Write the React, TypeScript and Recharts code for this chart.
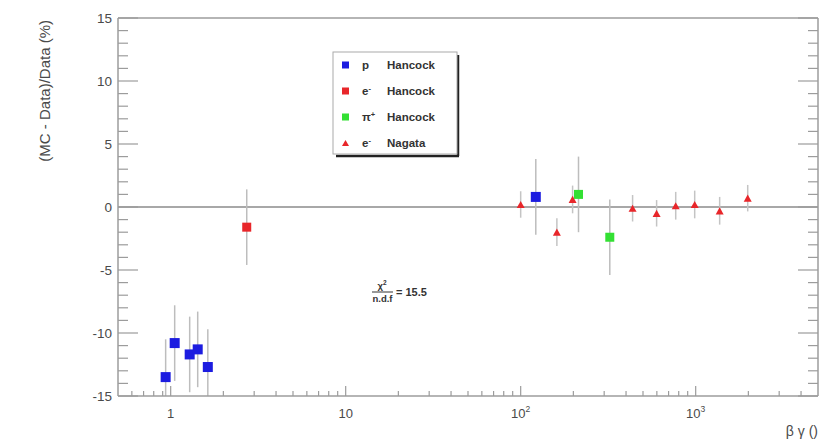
import React from 'react';
import { ComposedChart, Scatter, XAxis, YAxis, ErrorBar, ReferenceLine, Customized } from 'recharts';

// ---- data ----
const pHancockX = [0.936, 1.054, 1.284, 1.427, 1.63, 122];
const pHancockY = [-13.5, -10.8, -11.7, -11.3, -12.7, 0.8];
const pHancockErr = [3.0, 3.0, 3.0, 3.0, 3.0, 3.0];

const eHancockX = [2.72];
const eHancockY = [-1.6];
const eHancockErr = [3.0];

const piHancockX = [214, 323];
const piHancockY = [1.0, -2.4];
const piHancockErr = [3.0, 3.0];

const eNagataX = [100, 161, 198, 436, 598, 769, 987, 1371, 1983];
const eNagataY = [0.2, -2.0, 0.6, -0.1, -0.5, 0.1, 0.2, -0.3, 0.7];
const eNagataErr = [1.05, 1.1, 1.1, 1.05, 1.05, 1.1, 1.1, 1.1, 1.05];

const xMajorTicks = [1, 10, 100, 1000];
const xTickBase = ['1', '10', '10', '10'];
const xTickExp = ['', '', '2', '3'];
const xMinorTicks = [0.6, 0.7, 0.8, 0.9, 2, 3, 4, 5, 6, 7, 8, 9, 20, 30, 40, 50, 60, 70, 80, 90, 200, 300, 400, 500, 600, 700, 800, 900, 2000, 3000, 4000];
const yTicks = [-15, -14, -13, -12, -11, -10, -9, -8, -7, -6, -5, -4, -3, -2, -1, 0, 1, 2, 3, 4, 5, 6, 7, 8, 9, 10, 11, 12, 13, 14, 15];
const yMajorTicks = [-15, -10, -5, 0, 5, 10, 15];
const yDomain = [-15, 15];

const legendLabels = ['p', 'e', '\u03c0', 'e'];
const legendSup = ['', '-', '+', '-'];
const legendNames = ['Hancock', 'Hancock', 'Hancock', 'Nagata'];

const chi2Value = '15.5';

// error bars are clipped at the frame, like ROOT does
const toPoints = (xs: number[], ys: number[], es: number[]) =>
  xs.map((x, i) => ({
    x,
    y: ys[i],
    err: es[i],
    errRange: [Math.min(es[i], ys[i] - yDomain[0]), Math.min(es[i], yDomain[1] - ys[i])],
  }));

const pData = toPoints(pHancockX, pHancockY, pHancockErr);
const eData = toPoints(eHancockX, eHancockY, eHancockErr);
const piData = toPoints(piHancockX, piHancockY, piHancockErr);
const nData = toPoints(eNagataX, eNagataY, eNagataErr);
const allXTicks = [...xMinorTicks, ...xMajorTicks].sort((a, b) => a - b);

const BLUE = '#1c1ce0';
const RED = '#e8262a';
const GREEN = '#33e033';
const FRAME = '#9c9c9c';
const TXT = '#4a4a4a';
const FONT = '"Liberation Sans", Arial, Helvetica, sans-serif';

const squareShape = (color: string, s: number) => (props: any) => {
  const { cx, cy } = props;
  if (cx == null || cy == null) return <g />;
  return <rect x={cx - s / 2} y={cy - s / 2} width={s} height={s} fill={color} />;
};
const triShape = (color: string, s: number) => (props: any) => {
  const { cx, cy } = props;
  if (cx == null || cy == null) return <g />;
  const h = s * 0.9;
  return (
    <polygon
      points={`${cx - s / 2},${cy + h / 2} ${cx + s / 2},${cy + h / 2} ${cx},${cy - h / 2}`}
      fill={color}
    />
  );
};

const BottomTick = (p: any) => {
  const { x, y, payload } = p;
  const v = payload.value;
  const idx = xMajorTicks.indexOf(v);
  const major = idx >= 0;
  return (
    <g>
      <line x1={x} x2={x} y1={y} y2={y - (major ? 10 : 5)} stroke={FRAME} strokeWidth={1.2} />
      {major && (
        <text x={x} y={y + 22} textAnchor="middle" fontSize={13} fill={TXT} fontFamily={FONT}>
          {xTickBase[idx]}
          {xTickExp[idx] && (
            <tspan dy={-6} fontSize={8.5}>
              {xTickExp[idx]}
            </tspan>
          )}
        </text>
      )}
    </g>
  );
};
const TopTick = (p: any) => {
  const { x, y, payload } = p;
  const major = xMajorTicks.indexOf(payload.value) >= 0;
  return <line x1={x} x2={x} y1={y} y2={y + (major ? 10 : 5)} stroke={FRAME} strokeWidth={1.2} />;
};
const LeftTick = (p: any) => {
  const { x, y, payload } = p;
  const v = payload.value;
  const major = yMajorTicks.indexOf(v) >= 0;
  return (
    <g>
      <line x1={x} x2={x + (major ? 20 : 10)} y1={y} y2={y} stroke={FRAME} strokeWidth={1.2} />
      {major && (
        <text x={x - 6} y={y + 5} textAnchor="end" fontSize={13.5} fill={TXT} fontFamily={FONT}>
          {String(v)}
        </text>
      )}
    </g>
  );
};
const RightTick = (p: any) => {
  const { x, y, payload } = p;
  const major = yMajorTicks.indexOf(payload.value) >= 0;
  return <line x1={x} x2={x - (major ? 20 : 10)} y1={y} y2={y} stroke={FRAME} strokeWidth={1.2} />;
};

const Decorations = () => {
  const rowY = [65, 91, 117, 143];
  const markers = [
    (cy: number) => <rect x={342} y={cy - 3.5} width={7} height={7} fill={BLUE} />,
    (cy: number) => <rect x={342} y={cy - 3.5} width={7} height={7} fill={RED} />,
    (cy: number) => <rect x={342} y={cy - 3.5} width={7} height={7} fill={GREEN} />,
    (cy: number) => <polygon points={`${342},${cy + 3} ${349},${cy + 3} ${345.5},${cy - 3}`} fill={RED} />,
  ];
  return (
    <g fontFamily={FONT}>
      {/* axis titles */}
      <text transform="translate(50,20) rotate(-90)" textAnchor="end" fontSize={15} fill={TXT}>
        (MC - Data)/Data (%)
      </text>
      <text x={818} y={436} textAnchor="end" fontSize={14} fill={TXT}>
        {'\u03b2 \u03b3 ()'}
      </text>
      {/* legend */}
      <line x1={458} y1={55} x2={458} y2={156} stroke="#222" strokeWidth={2.5} />
      <line x1={336} y1={156} x2={459} y2={156} stroke="#222" strokeWidth={2.5} />
      <rect x={333} y={52} width={124} height={102} fill="#fff" stroke="#aaa" strokeWidth={1} />
      {rowY.map((cy, i) => (
        <g key={i}>
          {markers[i](cy)}
          <text x={362} y={cy + 4} fontSize={11.5} fontWeight="bold" fill="#333">
            {legendLabels[i]}
            {legendSup[i] && (
              <tspan dy={-4} fontSize={7.5}>
                {legendSup[i]}
              </tspan>
            )}
          </text>
          <text x={387} y={cy + 4} fontSize={11.5} fontWeight="bold" fill="#333">
            {legendNames[i]}
          </text>
        </g>
      ))}
      {/* chi2 / ndf */}
      <text x={382} y={289} textAnchor="middle" fontSize={9.5} fontWeight="bold" fill="#333">
        {'\u03c7'}
        <tspan dy={-4} fontSize={6.5}>2</tspan>
      </text>
      <line x1={372} x2={393} y1={292} y2={292} stroke="#333" strokeWidth={1} />
      <text x={382.5} y={302} textAnchor="middle" fontSize={9.5} fontWeight="bold" fill="#333">
        n.d.f
      </text>
      <text x={396} y={296} fontSize={11} fontWeight="bold" fill="#333">
        {'= ' + chi2Value}
      </text>
    </g>
  );
};

export default function App() {
  return (
    <div style={{ position: 'absolute', left: 0, top: 0, background: '#fff' }}>
      <ComposedChart width={826} height={441} margin={{ top: 0, right: 0, bottom: 0, left: 0 }}>
        <XAxis
          xAxisId={0}
          dataKey="x"
          type="number"
          scale="log"
          domain={[0.5, 5000]}
          allowDataOverflow
          ticks={allXTicks}
          interval={0}
          orientation="bottom"
          height={45}
          tickSize={0}
          tickMargin={0}
          tickLine={false}
          tick={<BottomTick />}
          axisLine={{ stroke: FRAME, strokeWidth: 1.5 }}
        />
        <XAxis
          xAxisId="top"
          type="number"
          scale="log"
          domain={[0.5, 5000]}
          allowDataOverflow
          ticks={allXTicks}
          interval={0}
          orientation="top"
          height={18}
          tickSize={0}
          tickMargin={0}
          tickLine={false}
          tick={<TopTick />}
          axisLine={{ stroke: FRAME, strokeWidth: 1.5 }}
        />
        <YAxis
          yAxisId={0}
          dataKey="y"
          type="number"
          domain={yDomain}
          allowDataOverflow
          ticks={yTicks}
          interval={0}
          orientation="left"
          width={118}
          tickSize={0}
          tickMargin={0}
          tickLine={false}
          tick={<LeftTick />}
          axisLine={{ stroke: FRAME, strokeWidth: 1.5 }}
        />
        <YAxis
          yAxisId="right"
          type="number"
          domain={yDomain}
          allowDataOverflow
          ticks={yTicks}
          interval={0}
          orientation="right"
          width={8}
          tickSize={0}
          tickMargin={0}
          tickLine={false}
          tick={<RightTick />}
          axisLine={{ stroke: FRAME, strokeWidth: 1.5 }}
        />
        <ReferenceLine y={0} stroke="#a8a8a8" strokeWidth={1.8} />
        <Scatter data={nData} dataKey="y" isAnimationActive={false} shape={triShape(RED, 8)}>
          <ErrorBar dataKey="errRange" direction="y" width={0} stroke="#c4c4c4" strokeWidth={1.5} />
        </Scatter>
        <Scatter data={eData} dataKey="y" isAnimationActive={false} shape={squareShape(RED, 9)}>
          <ErrorBar dataKey="errRange" direction="y" width={0} stroke="#bdbdbd" strokeWidth={1.5} />
        </Scatter>
        <Scatter data={piData} dataKey="y" isAnimationActive={false} shape={squareShape(GREEN, 9)}>
          <ErrorBar dataKey="errRange" direction="y" width={0} stroke="#bdbdbd" strokeWidth={1.5} />
        </Scatter>
        <Scatter data={pData} dataKey="y" isAnimationActive={false} shape={squareShape(BLUE, 10)}>
          <ErrorBar dataKey="errRange" direction="y" width={0} stroke="#bdbdbd" strokeWidth={1.5} />
        </Scatter>
        <Customized component={<Decorations />} />
      </ComposedChart>
    </div>
  );
}
